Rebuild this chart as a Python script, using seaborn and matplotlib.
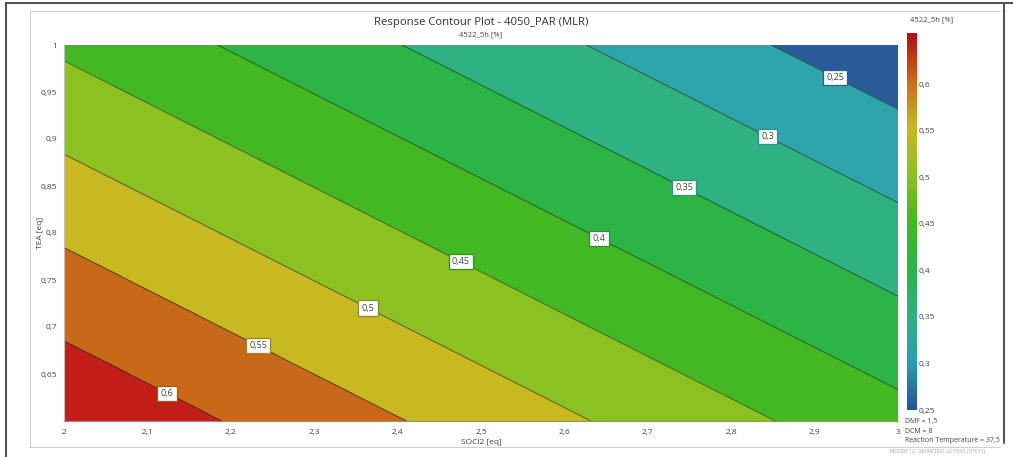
import numpy as np
import matplotlib
matplotlib.use("Agg")
import matplotlib.pyplot as plt
from matplotlib.lines import Line2D
import seaborn as sns

# ---- data ----------------------------------------------------------------
# MLR model (plane) behind the contour plot: resp = b0 + b1*SOCl2 + b2*TEA
model_intercept = 1.3966
model_coef_socl2 = -0.226
model_coef_tea = -0.503

socl2_range = [2.0, 3.0]
tea_range = [0.6, 1.0]
contour_levels = [0.25, 0.30, 0.35, 0.40, 0.45, 0.50, 0.55, 0.60]
x_ticks = [2.0, 2.1, 2.2, 2.3, 2.4, 2.5, 2.6, 2.7, 2.8, 2.9, 3.0]
y_ticks = [0.65, 0.70, 0.75, 0.80, 0.85, 0.90, 0.95, 1.0]
cbar_ticks = [0.25, 0.30, 0.35, 0.40, 0.45, 0.50, 0.55, 0.60]
cbar_range = [0.25, 0.655]
fixed_factors = ["DMF = 1,5", "DCM = 8", "Reaction Temperature = 37,5"]
title = "Response Contour Plot - 4050_PAR (MLR)"
response_name = "4522_5h [%]"
x_name = "SOCl2 [eq]"
y_name = "TEA [eq]"
# label placement along each contour (SOCl2 value)
label_x = [2.9245, 2.844, 2.7434, 2.6415, 2.476, 2.3645, 2.2326, 2.1235]

# ---- style ------------------------------------------------------------------
sns.set_style("white")
plt.rcParams["font.family"] = ["Open Sans", "DejaVu Sans"]

band_colors = ["#2b5c9a", "#2da5aa", "#2fb282", "#2cb446", "#42b823",
               "#8cc122", "#c9b920", "#c8691a", "#c21d17"]
cbar_colors = ["#255592", "#2b9fb0", "#2fb07e", "#2db446", "#44b822",
               "#8cc022", "#c9b91f", "#c86a1a", "#b0100f"]
cbar_cmap = sns.blend_palette(cbar_colors, as_cmap=True)


def fmt(v):
    s = ("%g" % round(v, 3))
    return s.replace(".", ",")


W, H = 1013, 457
fig = plt.figure(figsize=(W / 100, H / 100), dpi=100)


def fx(px):
    return px / W


def fy(py):
    return 1 - py / H


ax = fig.add_axes([fx(64), fy(421), fx(898) - fx(64), fy(45) - fy(421)])

xs = np.linspace(socl2_range[0], socl2_range[1], 201)
ys = np.linspace(tea_range[0], tea_range[1], 201)
X, Y = np.meshgrid(xs, ys)
Z = model_intercept + model_coef_socl2 * X + model_coef_tea * Y

fill_levels = [0.0] + contour_levels + [1.0]
ax.contourf(X, Y, Z, levels=fill_levels, colors=band_colors)
cs = ax.contour(X, Y, Z, levels=contour_levels, colors="#263a22",
                linewidths=0.6, alpha=0.85)

# label positions on each contour
manual = []
for lvl, lx in zip(contour_levels, label_x):
    ly = (lvl - model_intercept - model_coef_socl2 * lx) / model_coef_tea
    manual.append((lx, ly))
labels = ax.clabel(cs, levels=contour_levels, manual=manual, inline=False,
                   fontsize=6.5, fmt=fmt)
level_edge = {0.25: "#2b5c9a", 0.3: "#2a8f93", 0.35: "#2a9a6e", 0.4: "#2c8f3a",
              0.45: "#3b8f22", 0.5: "#8a8a22", 0.55: "#9a8a1e", 0.6: "#9a5a1a"}
for t in labels:
    v = float(t.get_text().replace(",", "."))
    ec = level_edge.get(round(v, 2), "#555555")
    t.set_rotation(0)
    t.set_color("#3a4a3a")
    t.set_bbox(dict(boxstyle="square,pad=0.35", fc="white", ec=ec, lw=0.9))

ax.set_xlim(socl2_range)
ax.set_ylim(tea_range)
ax.set_xticks(x_ticks)
ax.set_xticklabels([fmt(v) for v in x_ticks])
ax.set_yticks(y_ticks)
ax.set_yticklabels([fmt(v) for v in y_ticks])
ax.set_xticks(np.arange(2.05, 3.0, 0.1), minor=True)
ax.set_yticks(np.arange(0.625, 1.0, 0.05), minor=True)
ax.tick_params(which="both", direction="out", colors="#888888",
               labelcolor="#444444", labelsize=6, width=0.8)
ax.tick_params(which="major", length=4)
ax.tick_params(which="minor", length=3)
ax.tick_params(axis="x", pad=2)
ax.tick_params(axis="y", pad=1)
for side in ["top", "right"]:
    ax.spines[side].set_visible(False)
ax.spines["left"].set_color("#c0c0c0")
ax.spines["bottom"].set_color("#909090")
ax.grid(True, which="both", color="white", alpha=0.06, lw=0.8)

fig.text(fx(481), fy(443), x_name, ha="center", va="center",
         fontsize=6, color="#444444")
fig.text(fx(40), fy(233), y_name, ha="center", va="center",
         fontsize=6, color="#444444", rotation=90)
fig.text(fx(481), fy(23), title, ha="center", va="center",
         fontsize=8.1, color="#333333")
fig.text(fx(481), fy(35), response_name, ha="center", va="center",
         fontsize=5.5, color="#444444")

# ---- colour bar --------------------------------------------------------------
cax = fig.add_axes([fx(907), fy(410), fx(917) - fx(907), fy(33) - fy(410)])
grad = np.linspace(cbar_range[0], cbar_range[1], 256).reshape(-1, 1)
cax.imshow(grad, extent=[0, 1, cbar_range[0], cbar_range[1]], origin="lower",
           aspect="auto", cmap=cbar_cmap, vmin=cbar_range[0], vmax=cbar_range[1])
cax.set_xlim(0, 1)
cax.set_ylim(cbar_range)
cax.set_xticks([])
cax.yaxis.tick_right()
cax.set_yticks(cbar_ticks)
cax.set_yticklabels([fmt(v) for v in cbar_ticks])
cax.tick_params(axis="y", length=0, pad=1.5, labelsize=6, labelcolor="#444444")
for sp in cax.spines.values():
    sp.set_visible(False)
fig.text(fx(932), fy(20), response_name, ha="center", va="center",
         fontsize=5.5, color="#444444")

for i, txt in enumerate(fixed_factors):
    fig.text(fx(905), fy(422 + 9.5 * i), txt, ha="left", va="center",
             fontsize=5.0, color="#444444")
fig.text(fx(890), fy(451), "MODDE 12 - 28/04/2021 22:19:01 (UTC+1)",
         ha="left", va="center", fontsize=3.5, color="#999999")

# ---- frames ------------------------------------------------------------------
fig.add_artist(Line2D([fx(30), fx(30)], [fy(10.7), fy(447)], color="#d0d0d0", lw=0.8))
fig.add_artist(Line2D([fx(30), fx(1000)], [fy(10.7), fy(10.7)], color="#d0d0d0", lw=0.8))
fig.add_artist(Line2D([fx(30), fx(1000)], [fy(447), fy(447)], color="#d0d0d0", lw=0.8))
fig.add_artist(Line2D([fx(6), fx(6)], [fy(2.5), fy(457)], color="#555555", lw=1.5, zorder=21))
fig.add_artist(Line2D([fx(6), fx(1013)], [fy(2.5), fy(2.5)], color="#555555", lw=1.5, zorder=21))
fig.add_artist(Line2D([fx(1004), fx(1004)], [fy(2.5), fy(443)], color="#555555", lw=1.5, zorder=21))

fig.savefig("out.png", dpi=100)
